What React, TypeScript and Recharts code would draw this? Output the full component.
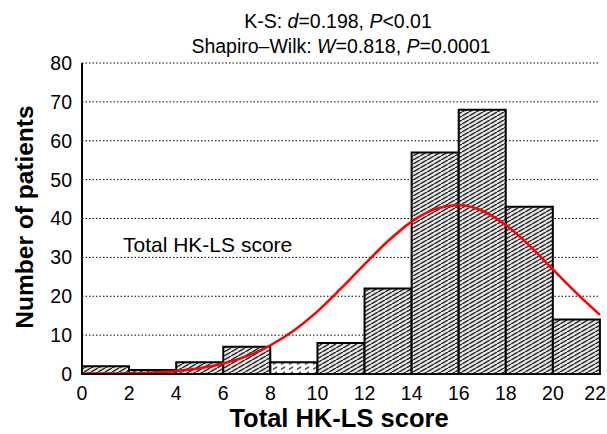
import {
  ComposedChart,
  Bar,
  Line,
  XAxis,
  YAxis,
  CartesianGrid,
  Cell,
} from 'recharts';

// histogram bins (centre of each 2-point bin) and patient counts
const binMids = [1, 3, 5, 7, 9, 11, 13, 15, 17, 19, 21];
const binCounts = [2, 1, 3, 7, 3, 8, 22, 57, 68, 43, 14];

// fitted normal curve
const curveX = [0, 1, 2, 3, 4, 5, 6, 7, 8, 9, 10, 11, 12, 13, 14, 15, 16, 17, 18, 19, 20, 21, 22];
const curveY = [0.1, 0.1, 0.2, 0.4, 0.8, 1.5, 2.7, 4.6, 7.4, 11.2, 16.1, 22, 28.2, 34.2, 39.2, 42.4, 43.4, 42, 38.3, 33.1, 26.9, 20.8, 15.2];

const xTicks = [0, 2, 4, 6, 8, 10, 12, 14, 16, 18, 20, 22];
const yTicks = [0, 10, 20, 30, 40, 50, 60, 70, 80];

const bins = binMids.map((x, i) => ({ x, count: binCounts[i] }));
const curve = curveX.map((x, i) => ({ x, fit: curveY[i] }));

const FONT = '"Liberation Sans", Arial, sans-serif';

// last x tick sits against the window edge, so pull it in a little
function XTick(props: any) {
  const { x, y, payload } = props;
  const last = payload.value === xTicks[xTicks.length - 1];
  return (
    <text
      x={last ? x + 6 : x}
      y={y}
      dy="0.71em"
      textAnchor={last ? 'end' : 'middle'}
      fontSize={19.5}
      fill="#000"
      fontFamily={FONT}
    >
      {payload.value}
    </text>
  );
}

export default function App() {
  return (
    <div style={{ position: 'absolute', left: 0, top: 0, width: 607, height: 434, fontFamily: FONT }}>
      <ComposedChart
        width={607}
        height={434}
        data={bins}
        margin={{ top: 63, right: 7, bottom: 0, left: 0 }}
        barCategoryGap={0}
        barGap={0}
      >
        <defs>
          <pattern id="hatch" patternUnits="userSpaceOnUse" width="7" height="4">
            <rect width="7" height="4" fill="#e6e6e6" />
            <path d="M0,4 L7,0 M-3.5,2 L0,0 M7,4 L10.5,2" stroke="#2a2a2a" strokeWidth="1.5" />
          </pattern>
          <pattern id="hatchLight" patternUnits="userSpaceOnUse" width="8" height="5">
            <rect width="8" height="5" fill="#fff" />
            <path d="M1,4.4 L5,1.9" stroke="#444" strokeWidth="1.3" />
          </pattern>
        </defs>
        <CartesianGrid horizontal vertical={false} stroke="#000" strokeDasharray="1.5 2" />
        <XAxis
          dataKey="x"
          type="number"
          domain={[0, 22]}
          ticks={xTicks}
          height={60}
          tickLine={false}
          tickSize={6}
          tickMargin={6}
          axisLine={{ stroke: '#000', strokeWidth: 2 }}
          tick={<XTick />}
          interval={0}
        />
        <XAxis
          xAxisId="curve"
          dataKey="x"
          type="number"
          orientation="top"
          domain={[0, 22]}
          height={0}
          tick={false}
          tickLine={false}
          axisLine={{ stroke: '#000', strokeWidth: 2 }}
        />
        <YAxis
          type="number"
          domain={[0, 80]}
          ticks={yTicks}
          width={82}
          tickLine={false}
          tickSize={6}
          tickMargin={4}
          axisLine={{ stroke: '#000', strokeWidth: 2 }}
          tick={{ fontSize: 19.5, fill: '#000', fontFamily: FONT }}
          interval={0}
        />
        <YAxis
          yAxisId="right"
          orientation="right"
          type="number"
          domain={[0, 80]}
          width={0}
          tick={false}
          tickLine={false}
          axisLine={{ stroke: '#000', strokeWidth: 2 }}
        />
        <Bar dataKey="count" stroke="#000" strokeWidth={2} isAnimationActive={false}>
          {bins.map((b, i) => (
            <Cell key={`bin-${i}`} fill={i === 4 ? 'url(#hatchLight)' : 'url(#hatch)'} />
          ))}
        </Bar>
        <Line
          xAxisId="curve"
          data={curve}
          dataKey="fit"
          type="monotone"
          stroke="#ff0000"
          strokeWidth={2.5}
          dot={false}
          isAnimationActive={false}
        />
      </ComposedChart>
      <svg
        width={607}
        height={434}
        style={{ position: 'absolute', left: 0, top: 0, pointerEvents: 'none' }}
        fontFamily={FONT}
      >
        <text x={338} y={28} textAnchor="middle" fontSize={19.5}>
          K-S: <tspan fontStyle="italic">d</tspan>=0.198, <tspan fontStyle="italic">P</tspan>&lt;0.01
        </text>
        <text x={341} y={53} textAnchor="middle" fontSize={19.5}>
          Shapiro–Wilk: <tspan fontStyle="italic">W</tspan>=0.818, <tspan fontStyle="italic">P</tspan>=0.0001
        </text>
        <text x={123} y={252} fontSize={21}>Total HK-LS score</text>
        <text x={339} y={427} textAnchor="middle" fontSize={25.5} fontWeight="bold">Total HK-LS score</text>
        <text x={33} y={217} textAnchor="middle" fontSize={24.5} fontWeight="bold" transform="rotate(-90 33 217)">
          Number of patients
        </text>
      </svg>
    </div>
  );
}
